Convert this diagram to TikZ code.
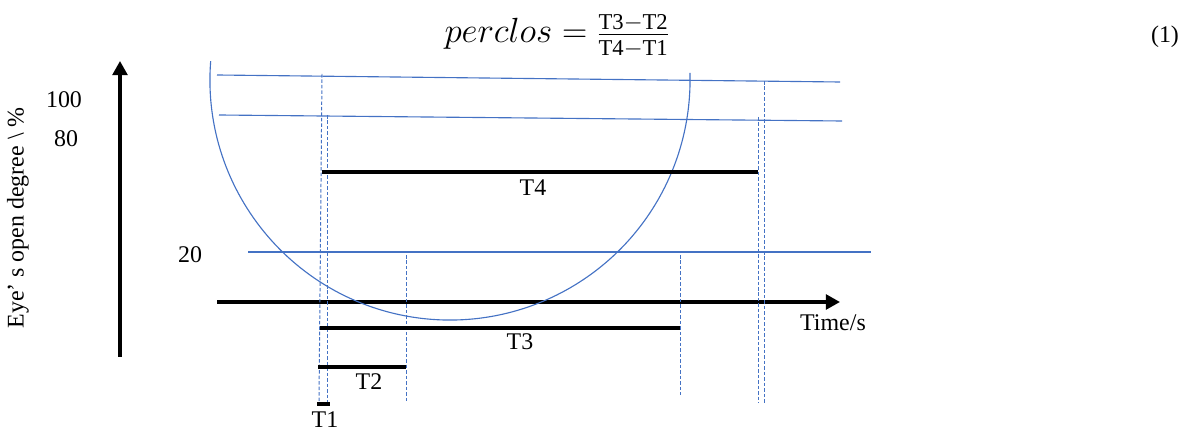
\documentclass[tikz,border=0pt]{standalone}
\usepackage{fontspec}
\setmainfont{Liberation Serif}
\usepackage{amsmath}
\usetikzlibrary{arrows.meta}
\definecolor{courbe}{HTML}{4472C4}

\begin{document}
\begin{tikzpicture}[x=0.025cm,y=-0.025cm,
		fleche/.style={line width=2.2pt,-{Triangle[length=10pt,width=10.5pt]}},
		seuil/.style={courbe,line width=0.8pt},
		repere/.style={courbe,line width=0.7pt,dash pattern=on 2.5pt off 1.4pt},
		duree/.style={line width=2.2pt},
		etiq/.style={inner sep=0pt,font=\fontsize{17}{20}\selectfont}]
		\useasboundingbox (0,0) rectangle (1193,432);
		%Formule
		\node[anchor=base,inner sep=0pt,font=\fontsize{23}{27}\selectfont] (F) at (557,43) {$perclos = \frac{\mathrm{T3-T2}}{\mathrm{T4-T1}}$};
		\node[etiq] (N) at (1165,37) {(1)};
		%Axes
		\coordinate (O1) at (120,357);
		\coordinate (Y) at (120,61);
		\coordinate (O2) at (217,302);
		\coordinate (X) at (840,302);
		\draw[fleche] (O1) -- (Y);
		\draw[fleche] (O2) -- (X);
		\node[etiq,rotate=90] (EY) at (18,218) {Eye’ s open degree \textbackslash\ \%};
		\node[etiq] (TS) at (833,323) {Time/s};
		%Seuils
		\node[etiq] (S100) at (64,100) {100};
		\node[etiq] (S80) at (66,139) {80};
		\node[etiq] (S20) at (190,255) {20};
		\draw[seuil] (217,75) -- (840,82);
		\draw[seuil] (219,115) -- (842,121);
		\draw[seuil] (248,252) -- (871,252);
		%Courbe
		\coordinate (C) at (450,80);
		\draw[seuil] (C) ++(175.5:6cm) arc[start angle=175.5,end angle=361.7,radius=6cm];
		%Reperes
		\draw[repere] (322,74) -- (319,402);
		\draw[repere] (327,115) -- (327,402);
		\draw[repere] (406,255) -- (406,403);
		\draw[repere] (680,255) -- (680,395);
		\draw[repere] (758,117) -- (758,403);
		\draw[repere] (764,81) -- (764,403);
		%Durees
		\coordinate (A4) at (322,172);
		\coordinate (B4) at (758,172);
		\coordinate (A3) at (320,328);
		\coordinate (B3) at (680,328);
		\coordinate (A2) at (318,367);
		\coordinate (B2) at (406,367);
		\coordinate (A1) at (317,404);
		\coordinate (B1) at (330,404);
		\draw[duree] (A4) -- (B4);
		\draw[duree] (A3) -- (B3);
		\draw[duree] (A2) -- (B2);
		\draw[duree] (A1) -- (B1);
		\node[etiq] (T4) at (533,188) {T4};
		\node[etiq] (T3) at (520,342) {T3};
		\node[etiq] (T2) at (369,382) {T2};
		\node[etiq] (T1) at (325,420) {T1};
	\end{tikzpicture}
\end{document}
